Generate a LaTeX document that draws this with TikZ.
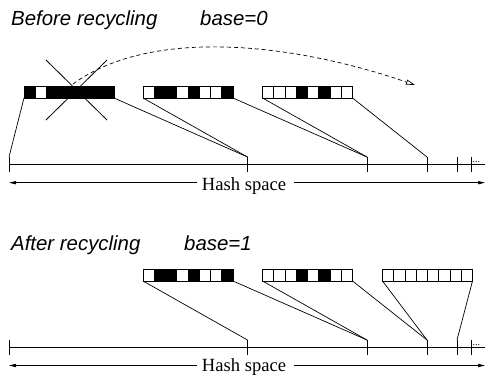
\documentclass[tikz,border=0pt]{standalone}
\usepackage{fontspec}
\setmainfont{Liberation Serif}
\newfontfamily\sansfam{Liberation Sans}
\usetikzlibrary{arrows.meta,calc}
\newcommand\fillcells[2]{\foreach \k in {#2}{\fill ([xshift={\k*11.25pt}]#1.south west) rectangle ([xshift={(\k+1)*11.25pt}]#1.north west);}}
\newcommand\cellgrid[1]{\foreach \k in {1,...,7}{\draw[line width=0.6pt] ([xshift={\k*11.25pt}]#1.south west) -- ([xshift={\k*11.25pt}]#1.north west);}\draw[line width=0.9pt] (#1.south west) rectangle (#1.north east);}
\begin{document}
\begin{tikzpicture}[x=1pt,y=-1pt,
 bar/.style={draw,line width=0.9pt,minimum width=90pt,minimum height=12pt,inner sep=0pt,outer sep=0pt},
 link/.style={line width=0.7pt},
 axis/.style={line width=0.8pt},
 tick/.style={line width=0.8pt},
 title/.style={anchor=base west,inner sep=0pt,font=\sansfam\itshape\fontsize{20.4}{24}\selectfont},
 hash/.style={font=\fontsize{18.6}{22}\selectfont,inner sep=0pt,anchor=base},
 harrow/.style={line width=0.8pt,-{Triangle[length=7pt,width=3.2pt]}},
 cross/.style={line width=0.8pt},
 move/.style={line width=0.7pt,dash pattern=on 4pt off 3pt,-{Triangle[open,length=9pt,width=5pt]}},
 dots/.style={anchor=base west,inner sep=0pt,font=\fontsize{10}{12}\selectfont},
]
\useasboundingbox (0,0) rectangle (485,375);

% ---------- titles ----------
\node[title] (t1) at (11,25) {Before recycling};
\node[title] (t2) at (200,25) {base=0};
\node[title] (t3) at (11,250) {After recycling};
\node[title] (t4) at (184,250) {base=1};

% ---------- top bars ----------
\node[bar] (b1) at (69,92) {};
\node[bar] (b2) at (188,92) {};
\node[bar] (b3) at (307.5,92) {};
\fillcells{b1}{0,2,3,4,5,6,7}
\fillcells{b2}{1,2,4,7}
\fillcells{b3}{3,5}
\cellgrid{b1}\cellgrid{b2}\cellgrid{b3}

% ---------- bottom bars ----------
\node[bar] (c1) at (188,275) {};
\node[bar] (c2) at (307.5,275) {};
\node[bar] (c3) at (427.5,275) {};
\fillcells{c1}{1,2,4,7}
\fillcells{c2}{3,5}
\cellgrid{c1}\cellgrid{c2}\cellgrid{c3}

% ---------- top axis ----------
\coordinate (al) at (9,164.5);
\coordinate (ar) at (485,164.5);
\draw[axis] (al) -- (ar);
\coordinate (p0) at (9,157);
\coordinate (p1) at (247.5,157);
\coordinate (p2) at (367,157);
\coordinate (p3) at (427,157);
\coordinate (p4) at (457,157);
\coordinate (p5) at (471,157);
\foreach \p in {p0,p1,p2,p3,p4,p5} \draw[tick] (\p) -- ++(0,15);
\node[dots] (d1) at (472.5,162) {...};

\draw[link] (b1.south west) -- (p0);
\draw[link] (b1.south east) -- (p1);
\draw[link] (b2.south west) -- (p1);
\draw[link] (b2.south east) -- (p2);
\draw[link] (b3.south west) -- (p2);
\draw[link] (b3.south east) -- (p3);

% ---------- bottom axis ----------
\coordinate (bl) at (9,347.7);
\coordinate (br) at (485,347.7);
\draw[axis] (bl) -- (br);
\coordinate (q0) at (9,340);
\coordinate (q1) at (247.5,340);
\coordinate (q2) at (367,340);
\coordinate (q3) at (427,340);
\coordinate (q4) at (457,340);
\coordinate (q5) at (471,340);
\foreach \q in {q0,q1,q2,q3,q4,q5} \draw[tick] (\q) -- ++(0,15);
\node[dots] (d2) at (472.5,345.2) {...};

\draw[link] (c1.south west) -- (q1);
\draw[link] (c1.south east) -- (q2);
\draw[link] (c2.south west) -- (q2);
\draw[link] (c2.south east) -- (q3);
\draw[link] (c3.south west) -- (q3);
\draw[link] (c3.south east) -- (q4);

% ---------- hash space arrows ----------
\node[hash] (h1) at (244,190) {Hash space};
\coordinate (h1l) at (9,182.7);
\coordinate (h1r) at (485,182.7);
\draw[harrow] ($(h1.west |- h1l)+(-5,0)$) -- (h1l);
\draw[harrow] ($(h1.east |- h1r)+(8,0)$) -- (h1r);

\node[hash] (h2) at (244,371) {Hash space};
\coordinate (h2l) at (9,365.5);
\coordinate (h2r) at (485,365.5);
\draw[harrow] ($(h2.west |- h2l)+(-5,0)$) -- (h2l);
\draw[harrow] ($(h2.east |- h2r)+(8,0)$) -- (h2r);

% ---------- cross and move arrow ----------
\coordinate (x1) at (46,60);
\coordinate (x2) at (107,120);
\coordinate (x3) at (46,120);
\coordinate (x4) at (107,60);
\draw[cross] (x1) -- (x2);
\draw[cross] (x3) -- (x4);
\coordinate (ms) at (73,84);
\coordinate (me) at (415,85);
\draw[move] (ms) .. controls (150,28) and (290,42) .. (me);
\end{tikzpicture}
\end{document}
